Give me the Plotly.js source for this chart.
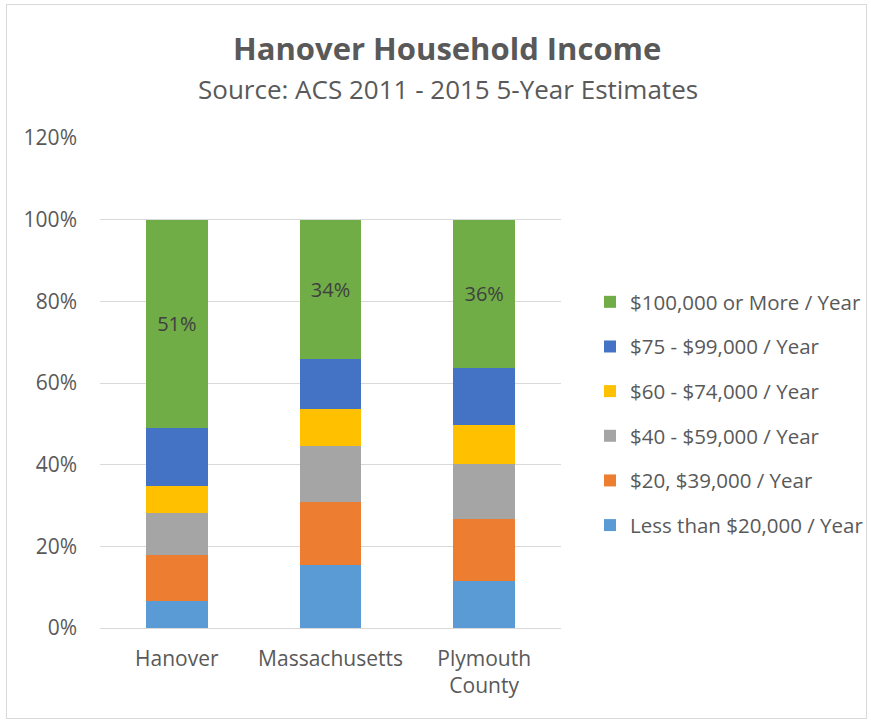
<!DOCTYPE html>
<html>
<head>
<meta charset="utf-8">
<script src="https://cdn.plot.ly/plotly-3.0.1.min.js"></script>
<style>
  html, body { margin: 0; padding: 0; background: #fff; }
  #chart { width: 871px; height: 720px; }
  #frame { position: absolute; left: 6px; top: 4px; width: 859px; height: 713px; border: 1px solid #d9d9d9; pointer-events: none; }
</style>
</head>
<body>
<div id="chart"></div>
<div id="frame"></div>
<script>
const categories = ["Hanover", "Massachusetts", "Plymouth<br>County"];
const seriesNames = [
  "Less than $20,000 / Year",
  "$20, $39,000 / Year",
  "$40 - $59,000 / Year",
  "$60 - $74,000 / Year",
  "$75 - $99,000 / Year",
  "$100,000 or More / Year"
];
const lessThan20k = [6.5, 15.5, 11.5];
const from20to39k = [11.5, 15.4, 15.1];
const from40to59k = [10.1, 13.6, 13.5];
const from60to74k = [6.7, 9.1, 9.5];
const from75to99k = [14.2, 12.3, 14.0];
const over100k = [51.0, 34.1, 36.4];
const seriesValues = [lessThan20k, from20to39k, from40to59k, from60to74k, from75to99k, over100k];
const colors = ["#5B9BD5", "#ED7D31", "#A5A5A5", "#FFC000", "#4472C4", "#70AD47"];
const yTicks = [0, 20, 40, 60, 80, 100, 120];

const FONT = "Open Sans, Noto Sans, sans-serif";
const GREY = "#595959";

// geometry helpers (pixels -> paper fractions)
const ML = 100, MR = 0, MT = 138, MB = 92;
const PW = 871 - ML - MR, PH = 720 - MT - MB;
const px = x => (x - ML) / PW;
const py = y => (720 - MB - y) / PH;

const traces = seriesValues.map((vals, i) => {
  const t = {
    type: "bar",
    name: seriesNames[i],
    x: categories,
    y: vals,
    legendgroup: "g" + i,
    legendrank: seriesValues.length - i,
    marker: { color: colors[i] },
    hoverinfo: "name+y"
  };
  if (i === seriesValues.length - 1) {
    t.texttemplate = "%{y:.0f}%";
    t.textposition = "inside";
    t.insidetextanchor = "middle";
    t.textfont = { family: FONT, size: 20, color: "#404040" };
    t.constraintext = "none";
  } else {
    t.textposition = "none";
  }
  return t;
});

const layout = {
  width: 871,
  height: 720,
  barmode: "stack",
  bargap: 0.6,
  paper_bgcolor: "#ffffff",
  plot_bgcolor: "#ffffff",
  margin: { l: ML, r: MR, t: MT, b: MB, autoexpand: false },
  font: { family: FONT, color: GREY, size: 21 },
  showlegend: true,
  legend: {
    x: px(590),
    xanchor: "left",
    y: py(413.5),
    yanchor: "middle",
    traceorder: "grouped",
    tracegroupgap: 15,
    font: { family: FONT, size: 20.5, color: GREY },
    bgcolor: "rgba(0,0,0,0)"
  },
  xaxis: {
    type: "category",
    domain: [0, px(561)],
    showgrid: false,
    showline: false,
    ticks: "",
    ticklabelstandoff: 16,
    tickfont: { family: FONT, size: 21, color: GREY },
    fixedrange: true
  },
  yaxis: {
    range: [0, 120],
    tickvals: yTicks,
    ticktext: yTicks.map(v => v + "%"),
    showgrid: true,
    gridcolor: "#d9d9d9",
    gridwidth: 1,
    zeroline: true,
    zerolinecolor: "#d9d9d9",
    zerolinewidth: 1,
    showline: false,
    ticks: "",
    ticklabelstandoff: 22,
    tickfont: { family: FONT, size: 21, color: GREY },
    fixedrange: true
  },
  annotations: [
    {
      text: "<b>Hanover Household Income</b>",
      xref: "paper", yref: "paper",
      x: px(447), y: py(48),
      xanchor: "center", yanchor: "middle",
      showarrow: false,
      font: { family: FONT, size: 31, color: GREY }
    },
    {
      text: "Source: ACS 2011 - 2015 5-Year Estimates",
      xref: "paper", yref: "paper",
      x: px(448), y: py(89),
      xanchor: "center", yanchor: "middle",
      showarrow: false,
      font: { family: FONT, size: 26, color: GREY }
    }
  ]
};

Plotly.newPlot("chart", traces, layout, { displayModeBar: false });
</script>
</body>
</html>
